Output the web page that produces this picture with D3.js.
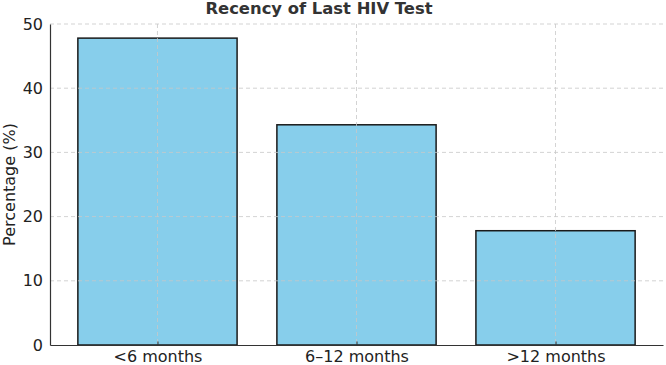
<!DOCTYPE html>
<html>
<head>
<meta charset="utf-8">
<script src="https://cdn.jsdelivr.net/npm/d3@7"></script>
<style>
  body { margin: 0; background: #fff; }
  svg text { font-family: "DejaVu Sans", "Verdana", sans-serif !important; }
  .grid line { stroke: #c8c8c8; stroke-dasharray: 4,3; stroke-width: 0.8; }
</style>
</head>
<body>
<div id="chart"></div>
<script>
var categories = ["<6 months", "6\u201312 months", ">12 months"];
var percentages = [47.8, 34.3, 17.8];
var yTicks = [0, 10, 20, 30, 40, 50];

var width = 666, height = 365;
var margin = { top: 24, right: 3, bottom: 20, left: 50 };
var innerW = width - margin.left - margin.right,
    innerH = height - margin.top - margin.bottom;

var svg = d3.select("#chart")
  .append("svg")
  .attr("width", width)
  .attr("height", height);

var g = svg.append("g")
  .attr("transform", "translate(" + margin.left + "," + margin.top + ")");

// category index scale, same padding as matplotlib default margins
var x = d3.scaleLinear()
  .domain([-0.54, categories.length - 1 + 0.54])
  .range([0, innerW]);
var barW = x(0.4) - x(-0.4);

var y = d3.scaleLinear()
  .domain([0, 50])
  .range([innerH, 0]);

// bars
g.selectAll("rect.bar")
  .data(percentages)
  .enter()
  .append("rect")
  .attr("class", "bar")
  .attr("x", function (d, i) { return x(i) - barW / 2; })
  .attr("y", function (d) { return y(d); })
  .attr("width", barW)
  .attr("height", function (d) { return innerH - y(d); })
  .style("fill", "#87ceeb")
  .style("stroke", "#1a1a1a")
  .style("stroke-width", 1.5);

// grid lines on top of bars
var grid = g.append("g").attr("class", "grid");
grid.selectAll("line.h")
  .data(yTicks.slice(1))
  .enter()
  .append("line")
  .attr("x1", 0).attr("x2", innerW)
  .attr("y1", function (d) { return y(d); })
  .attr("y2", function (d) { return y(d); });
grid.selectAll("line.v")
  .data(categories)
  .enter()
  .append("line")
  .attr("x1", function (d, i) { return x(i); })
  .attr("x2", function (d, i) { return x(i); })
  .attr("y1", 0).attr("y2", innerH);

// y axis
var yAxis = g.append("g")
  .call(d3.axisLeft(y).tickValues(yTicks).tickSize(0).tickPadding(7));
yAxis.select(".domain").attr("stroke", "#333").attr("stroke-width", 1.2);
yAxis.selectAll("text").style("font-size", "16px").attr("fill", "#222");

// x axis
var xAxis = g.append("g")
  .attr("transform", "translate(0," + innerH + ")")
  .call(d3.axisBottom(x)
    .tickValues(d3.range(categories.length))
    .tickFormat(function (i) { return categories[i]; })
    .tickSizeInner(-3.5).tickSizeOuter(0).tickPadding(6));
xAxis.select(".domain").attr("stroke", "#333").attr("stroke-width", 1.2);
xAxis.selectAll(".tick line").attr("stroke", "#333");
xAxis.selectAll("text").style("font-size", "16px").attr("fill", "#222");

// title (sits left of the plot centre in the original)
svg.append("text")
  .attr("x", 319)
  .attr("y", 14)
  .attr("text-anchor", "middle")
  .style("font-size", "16.4px")
  .style("font-weight", "bold")
  .attr("fill", "#333")
  .text("Recency of Last HIV Test");

// y label
svg.append("text")
  .attr("transform", "translate(15," + (margin.top + innerH / 2) + ") rotate(-90)")
  .attr("text-anchor", "middle")
  .style("font-size", "16px")
  .attr("fill", "#222")
  .text("Percentage (%)");
</script>
</body>
</html>
